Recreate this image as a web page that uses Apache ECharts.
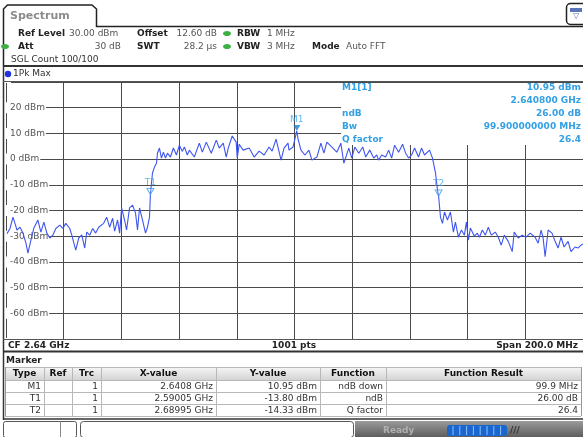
<!DOCTYPE html>
<html><head><meta charset="utf-8">
<script src="https://cdn.jsdelivr.net/npm/echarts@6/dist/echarts.min.js"></script>
<style>html,body{margin:0;padding:0;background:#fff}#c{width:583px;height:437px}</style>
</head><body><div id="c"></div>
<script>
// ---- data ----
const traceFreqMHz = [2540.35,2541.38,2542.42,2543.11,2543.80,2544.84,2545.87,2546.91,2547.60,2548.64,2549.67,2550.36,2551.05,2552.09,2553.13,2554.16,2555.20,2556.23,2557.27,2558.65,2559.69,2560.72,2562.11,2562.80,2564.18,2565.21,2566.25,2567.29,2567.98,2569.01,2570.05,2571.09,2572.12,2572.81,2573.85,2574.89,2575.92,2576.96,2577.65,2578.68,2579.38,2580.07,2581.10,2581.79,2582.83,2583.87,2584.90,2585.59,2586.28,2587.32,2588.36,2589.05,2589.74,2590.05,2590.77,2591.47,2592.16,2592.50,2593.19,2593.88,2594.57,2595.27,2595.96,2596.99,2598.03,2599.07,2600.10,2601.14,2601.83,2602.86,2603.56,2605.28,2607.01,2608.05,2609.43,2611.16,2612.88,2613.92,2615.30,2616.34,2617.03,2618.41,2619.79,2620.14,2620.83,2622.21,2624.28,2626.01,2627.74,2629.46,2631.19,2632.23,2633.61,2635.34,2636.37,2637.75,2638.10,2639.48,2640.17,2640.80,2641.20,2642.24,2643.62,2645.00,2646.04,2647.76,2649.15,2650.19,2651.22,2652.95,2654.68,2656.06,2657.10,2658.82,2659.86,2660.90,2662.28,2663.66,2664.69,2666.08,2667.46,2668.49,2669.18,2670.22,2671.60,2672.64,2673.67,2674.71,2676.09,2677.47,2678.51,2679.54,2680.58,2681.62,2683.00,2684.03,2685.07,2686.80,2687.83,2688.87,2689.56,2689.95,2690.60,2691.29,2691.98,2693.02,2694.05,2695.09,2695.78,2696.82,2697.85,2698.89,2699.58,2700.27,2700.96,2702.35,2703.38,2704.07,2705.11,2706.15,2707.18,2708.22,2709.60,2710.64,2711.67,2712.71,2714.09,2715.47,2716.16,2717.54,2718.92,2720.30,2721.69,2723.41,2724.45,2725.49,2726.18,2726.87,2727.91,2729.26,2730.33,2731.37,2732.40,2733.44,2734.82,2735.85,2737.24,2738.28,2739.30,2740.00];
const traceLevelDbm = [-29,-27,-22.6,-25,-27.6,-26.5,-28.8,-32.7,-36.6,-31.5,-26.8,-27,-23.7,-28.4,-24.5,-28.8,-30.7,-29.6,-27,-25.7,-27,-25,-27,-29.6,-35.4,-30.7,-29.5,-34.6,-28.4,-29.6,-27,-28.8,-26.5,-27,-25,-22.6,-26.5,-23,-28,-23.7,-28.8,-19,-23.7,-27.6,-19,-17.9,-21,-27.6,-19,-23.7,-28.8,-26.5,-22.6,-13.8,-5.4,-3.1,-1.6,2.3,4.3,0.4,2.7,0.4,2.3,0.8,4.3,1.6,5.4,3,4.7,1.6,3.5,0.8,6.2,2.7,6.6,2.3,7.4,4.3,6.2,0.8,4.3,9,6.6,0.4,5.8,3.5,4.3,0.8,3.1,1.6,4.7,3.1,7.8,-0.4,4.3,6.2,3.5,4.7,8,10.95,8,3.5,1.6,3.5,-0.4,0.8,6.2,2.3,6.6,4.7,2.7,6.2,-1.6,4.3,0.4,4.7,2.3,4.7,0.8,3.5,0.4,1.6,-0.4,1.6,0.8,3.5,0.4,5.4,2.7,5.8,2.3,0.4,1.6,4.3,0.8,4.3,1.6,3.5,0.4,-5.4,-12,-14.33,-22.6,-25,-20.6,-23.7,-20.6,-28.4,-24.5,-30.4,-27.6,-29.6,-24.5,-31.5,-26.8,-30,-28.8,-30.4,-27.6,-29.6,-26.5,-29.6,-28.4,-30.4,-33.5,-29.6,-32,-36,-28.4,-30.7,-29.6,-30.4,-28.8,-30.4,-32.7,-27.6,-30.7,-38,-27.6,-28.8,-32,-34.6,-30.4,-34.2,-32,-36,-34.2,-34.6,-33.5,-33];
const markerNames = ['M1', 'T1', 'T2'];
const markerFreqMHz = [2640.8, 2590.05, 2689.95];
const markerLevelDbm = [10.95, -13.80, -14.33];
const xMinMHz = 2540, xMaxMHz = 2740, xStepMHz = 20;
const yMinDbm = -70, yMaxDbm = 30, yStepDb = 10;
const yTickLabels = ['', '20 dBm', '10 dBm', '0 dBm', '-10 dBm', '-20 dBm', '-30 dBm', '-40 dBm', '-50 dBm', '-60 dBm', ''];
const infoLabels = ['M1[1]', '', 'ndB', 'Bw', 'Q factor'];
const infoValues = ['10.95 dBm', '2.640800 GHz', '26.00 dB', '99.900000000 MHz', '26.4'];
const tableHeader = ['Type', 'Ref', 'Trc', 'X-value', 'Y-value', 'Function', 'Function Result'];
const tableRows = [
  ['M1', '', '1', '2.6408 GHz', '10.95 dBm', 'ndB down', '99.9 MHz'],
  ['T1', '', '1', '2.59005 GHz', '-13.80 dBm', 'ndB', '26.00 dB'],
  ['T2', '', '1', '2.68995 GHz', '-14.33 dBm', 'Q factor', '26.4']
];

// ---- layout / style ----
const FONT = 'DejaVu Sans';
const BLUE_TXT = '#33a0e4';
const gLeft = 6, gTop = 82, gW = 579, gH = 257;
const G = [];
function txt(x, y, s, o) {
  o = o || {};
  G.push({type: 'text', z: o.z || 20, silent: true, style: {
    text: s, x: x, y: y, fill: o.color || '#222',
    font: (o.bold ? 'bold ' : '') + (o.size || 9) + 'px "' + FONT + '"',
    align: o.align || 'left', textAlign: o.align || 'left',
    verticalAlign: 'middle', textVerticalAlign: 'middle'}});
}
function rect(x, y, w, h, o) {
  G.push({type: 'rect', z: o.z || 5, silent: true, shape: {x: x, y: y, width: w, height: h, r: o.r || 0},
    style: {fill: o.fill || 'none', stroke: o.stroke || null, lineWidth: o.lw || 1}});
}
function line(x1, y1, x2, y2, o) {
  o = o || {};
  G.push({type: 'line', z: o.z || 5, silent: true, shape: {x1: x1, y1: y1, x2: x2, y2: y2},
    style: {stroke: o.stroke || '#333', lineWidth: o.lw || 1}});
}

// tab
G.push({type: 'polyline', z: 5, silent: true, shape: {points: [[3.5, 66], [3.5, 9], [7.5, 5], [92, 5], [96.5, 9], [96.5, 26.5], [583, 26.5]]},
  style: {stroke: '#222', lineWidth: 1.5, fill: null}});
txt(10, 16, 'Spectrum', {bold: true, size: 11, color: '#8c8c8c'});
// top-right icon
rect(566.5, 3.5, 20, 21, {stroke: '#222', lw: 1.5, r: 4, fill: '#fff'});
rect(570, 8, 12, 4, {fill: '#5a74b8', z: 6});
txt(576, 16, '\u25BD', {size: 8, color: '#5a74b8', align: 'center'});

// header
txt(18, 33.5, 'Ref Level', {bold: true});
txt(69, 33.5, '30.00 dBm', {color: '#555'});
txt(137, 33.5, 'Offset', {bold: true});
txt(217, 33.5, '12.60 dB', {color: '#555', align: 'right'});
txt(18, 46.5, 'Att', {bold: true});
txt(121, 46.5, '30 dB', {color: '#555', align: 'right'});
txt(137, 46.5, 'SWT', {bold: true});
txt(217, 46.5, '28.2 \u00b5s', {color: '#555', align: 'right'});
[[227, 33.5], [227, 46.5], [5, 46.5]].forEach(p => G.push({type: 'ellipse', z: 6, silent: true,
  shape: {cx: p[0], cy: p[1], rx: 4, ry: 2.6}, style: {fill: '#3cb043'}}));
txt(237, 33.5, 'RBW', {bold: true});
txt(267, 33.5, '1 MHz', {color: '#555'});
txt(237, 46.5, 'VBW', {bold: true});
txt(267, 46.5, '3 MHz', {color: '#555'});
txt(312, 46.5, 'Mode', {bold: true});
txt(346, 46.5, 'Auto FFT', {color: '#555'});
txt(11, 59.5, 'SGL Count 100/100', {color: '#333'});

// diagram frame
line(3, 66, 583, 66, {stroke: '#333', lw: 2});
line(3.5, 66, 3.5, 420, {stroke: '#333', lw: 1.5});
G.push({type: 'circle', z: 6, silent: true, shape: {cx: 8, cy: 74, r: 3.2}, style: {fill: '#2233dd'}});
txt(13, 74, '1Pk Max', {color: '#333'});
line(3, 81.5, 583, 81.5, {stroke: '#555', lw: 1});

// marker info box (covers grid)
rect(341, 83, 242, 62, {fill: '#fff', z: 1});
for (let i = 0; i < infoLabels.length; i++) {
  const y = 88 + i * 12.8;
  if (infoLabels[i]) txt(342, y, infoLabels[i], {bold: true, color: BLUE_TXT});
  txt(581, y, infoValues[i], {bold: true, color: BLUE_TXT, align: 'right'});
}

// bottom status row of diagram
line(3, 339.5, 583, 339.5, {stroke: '#555'});
txt(8, 345.5, 'CF 2.64 GHz', {bold: true});
txt(294, 345.5, '1001 pts', {bold: true, align: 'center'});
txt(578, 345.5, 'Span 200.0 MHz', {bold: true, align: 'right'});
line(3, 351.5, 583, 351.5, {stroke: '#333', lw: 2});

// marker table
txt(6, 360.5, 'Marker', {bold: true});
const colX = [5, 44, 72, 101, 216, 320, 386, 581];
const rowY = [367, 380, 392, 404, 416];
G.push({type: 'rect', z: 4, silent: true, shape: {x: colX[0], y: rowY[0], width: colX[7] - colX[0], height: 13},
  style: {fill: {type: 'linear', x: 0, y: 0, x2: 0, y2: 1, colorStops: [{offset: 0, color: '#f6f6f6'}, {offset: 1, color: '#d4d4d4'}]}}});
for (let r = 0; r < rowY.length; r++) line(colX[0], rowY[r] + 0.5, colX[7], rowY[r] + 0.5, {stroke: '#b8b8b8'});
for (let c = 0; c < colX.length; c++) line(colX[c] + 0.5, rowY[0], colX[c] + 0.5, rowY[4], {stroke: c === 0 || c === 7 ? '#999' : '#b8b8b8'});
for (let c = 0; c < tableHeader.length; c++) txt((colX[c] + colX[c + 1]) / 2, 374, tableHeader[c], {bold: true, align: 'center', color: '#111'});
tableRows.forEach((row, r) => {
  row.forEach((v, c) => { if (v) txt(colX[c + 1] - 3, rowY[r + 1] + 6.5, v, {align: 'right', color: '#333'}); });
});
line(3, 419, 583, 419, {stroke: '#333', lw: 1.5});

// status bar
rect(3.5, 421.5, 73, 16, {stroke: '#555', fill: '#fff', r: 2});
line(60.5, 421, 60.5, 437, {stroke: '#888'});
rect(80.5, 421.5, 273, 16, {stroke: '#555', fill: '#fff', r: 3});
G.push({type: 'rect', z: 4, silent: true, shape: {x: 355, y: 421, width: 228, height: 16},
  style: {fill: {type: 'linear', x: 0, y: 0, x2: 0, y2: 1, colorStops: [{offset: 0, color: '#9a9a9a'}, {offset: 1, color: '#5e5e5e'}]}}});
txt(383, 431, 'Ready', {color: '#b0b0b0', bold: true});
rect(447, 425, 60, 11, {fill: '#1a66d0', r: 3, z: 6});
for (let i = 0; i < 8; i++) line(453 + i * 6.8, 426, 453 + i * 6.8, 435, {stroke: '#8fc0f5', z: 7});
txt(510, 431, '///', {color: '#333', bold: true, size: 9});

const chart = echarts.init(document.getElementById('c'), null, {renderer: 'canvas'});
chart.setOption({
  animation: false,
  backgroundColor: '#fff',
  grid: {left: gLeft, top: gTop, width: gW, height: gH, containLabel: false},
  xAxis: {type: 'value', min: xMinMHz, max: xMaxMHz, interval: xStepMHz,
    axisLine: {show: false}, axisTick: {show: false}, axisLabel: {show: false},
    splitLine: {show: true, lineStyle: {color: '#4a4a4a', width: 1}}},
  yAxis: {type: 'value', min: yMinDbm, max: yMaxDbm, interval: yStepDb,
    axisLine: {show: false}, axisTick: {show: false},
    axisLabel: {inside: true, margin: 0, color: '#555', fontSize: 9, fontFamily: FONT,
      backgroundColor: '#fff', padding: [1, 1, 1, 4],
      formatter: v => yTickLabels[Math.round((yMaxDbm - v) / yStepDb)] || ''},
    splitLine: {show: true, lineStyle: {color: '#4a4a4a', width: 1}}},
  series: [
    {type: 'line', z: 3, showSymbol: false, symbol: 'none', silent: true,
      lineStyle: {color: '#3f55ef', width: 1.1},
      data: traceFreqMHz.map((f, i) => [f, traceLevelDbm[i]])},
    {type: 'scatter', z: 4, silent: true, symbol: 'triangle', symbolRotate: 180, symbolSize: [7, 6], symbolOffset: [0, -3],
      data: markerNames.map((n, i) => ({value: [markerFreqMHz[i], markerLevelDbm[i]], name: n,
        itemStyle: i === 0 ? {color: '#1a7fd0'} : {color: 'rgba(255,255,255,0.2)', borderColor: '#3aa0e6', borderWidth: 1}})),
      label: {show: true, position: 'top', distance: 1, formatter: p => p.name, color: '#3aa6e8', fontSize: 9, fontFamily: FONT}}
  ],
  graphic: {elements: G}
});
</script></body></html>
